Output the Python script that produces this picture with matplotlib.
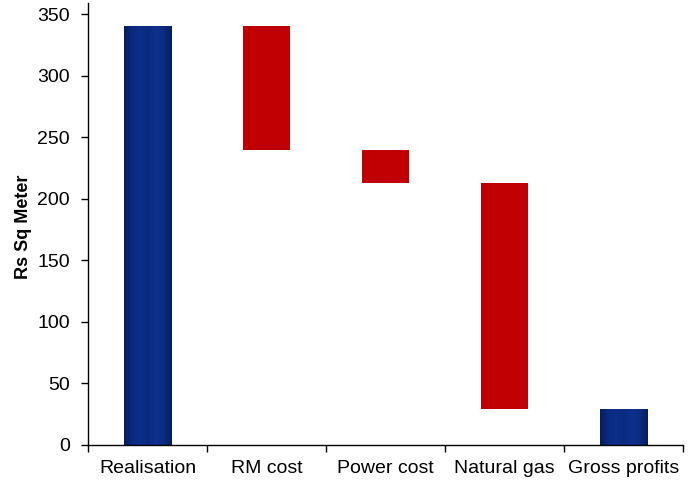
import numpy as np
import matplotlib
matplotlib.use("Agg")
import matplotlib.pyplot as plt
from matplotlib.colors import LinearSegmentedColormap

# Waterfall: realisation down to gross profits (Rs per sq meter)
categories = ["Realisation", "RM cost", "Power cost", "Natural gas", "Gross profits"]
changes = [340, -100, -27, -184, 29]
is_total = [True, False, False, False, True]

plt.rcParams['font.family'] = ['Liberation Sans', 'DejaVu Sans']

fig = plt.figure(figsize=(6.96, 4.83), dpi=100)
ax = fig.add_axes([0.1264, 0.0787, 0.8549, 0.915])

BAR_W = 0.40
RED = "#C00000"
# dark navy at the edges, lighter blue towards the middle
blue_cmap = LinearSegmentedColormap.from_list(
    "navy", ["#061c5e", "#0b2a7c", "#0d2f8a", "#0a2a7e", "#0e318e", "#0b2b80", "#061c5e"])
grad = np.linspace(0, 1, 256).reshape(1, -1)

running = 0
for i, (cat, val, total) in enumerate(zip(categories, changes, is_total)):
    if total:
        bottom, height = 0, val
        running = val
    else:
        bottom, height = running + val, -val
        running = running + val
    if total:
        bar = ax.bar(i, height, bottom=bottom, width=BAR_W, color="none",
                     edgecolor="none", zorder=2)[0]
        x0, y0 = bar.get_x(), bar.get_y()
        ax.imshow(grad, cmap=blue_cmap, aspect="auto", zorder=2,
                  extent=(x0, x0 + bar.get_width(), y0, y0 + bar.get_height()))
    else:
        ax.bar(i, height, bottom=bottom, width=BAR_W, color=RED,
               edgecolor="none", zorder=2)

ax.set_xlim(-0.5, len(categories) - 0.5)
ax.set_ylim(0, 359)
ax.set_yticks(np.arange(0, 351, 50))
ax.set_xticks(range(len(categories)))
ax.set_xticklabels(categories)
ax.set_xticks(np.arange(-0.5, len(categories), 1), minor=True)

ax.tick_params(axis="x", which="major", length=0, pad=11, labelsize=14)
ax.tick_params(axis="x", which="minor", length=5, width=1, direction="out")
ax.tick_params(axis="y", length=5, width=1, direction="out", pad=8, labelsize=14)

for side in ("top", "right"):
    ax.spines[side].set_visible(False)
for side in ("left", "bottom"):
    ax.spines[side].set_linewidth(1)

ax.set_ylabel("Rs Sq Meter", fontsize=13, fontweight="bold")
ax.yaxis.set_label_coords(-0.094, 0.493)

fig.savefig("out.png", dpi=100)
